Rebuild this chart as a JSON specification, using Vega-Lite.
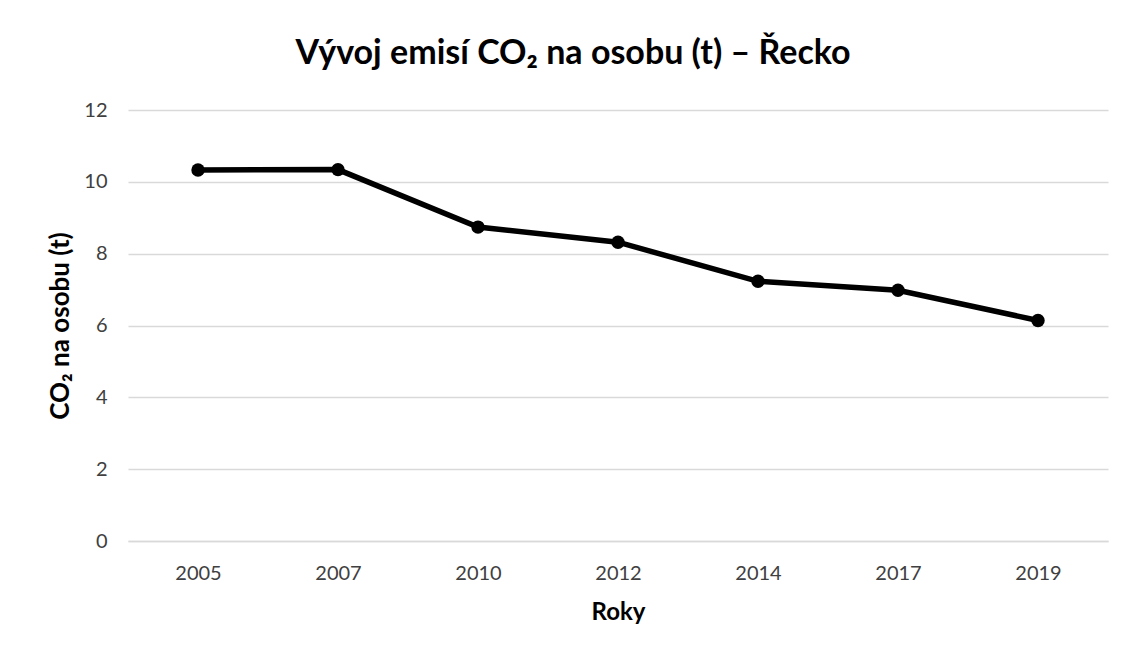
{
  "$schema": "https://vega.github.io/schema/vega-lite/v6.json",
  "autosize": "none",
  "width": 980,
  "height": 431,
  "padding": {"left": 128, "top": 110, "right": 17, "bottom": 114},
  "background": "white",
  "config": {
    "font": "Lato",
    "view": {"stroke": null},
    "axis": {"labelColor": "#404040", "titleColor": "#000000", "gridColor": "#d9d9d9", "gridWidth": 1.5}
  },
  "title": {
    "text": "Vývoj emisí CO₂ na osobu (t) – Řecko",
    "fontSize": 34,
    "fontWeight": "bold",
    "font": "Lato",
    "color": "#000000",
    "anchor": "middle",
    "offset": 29,
    "dx": -45
  },
  "data": {
    "values": [
      {"rok": "2005", "co2": 10.33},
      {"rok": "2007", "co2": 10.34},
      {"rok": "2010", "co2": 8.74},
      {"rok": "2012", "co2": 8.32},
      {"rok": "2014", "co2": 7.23},
      {"rok": "2017", "co2": 6.98},
      {"rok": "2019", "co2": 6.14}
    ]
  },
  "encoding": {
    "x": {
      "field": "rok",
      "type": "ordinal",
      "sort": null,
      "scale": {"paddingInner": 0, "paddingOuter": 0.5},
      "axis": {
        "title": "Roky",
        "titleFontSize": 24,
        "titleFontWeight": "bold",
        "titlePadding": 17,
        "labelFontSize": 20,
        "labelAngle": 0,
        "labelPadding": 22,
        "ticks": false,
        "domain": true,
        "domainColor": "#d9d9d9",
        "domainWidth": 1.5,
        "grid": false
      }
    },
    "y": {
      "field": "co2",
      "type": "quantitative",
      "scale": {"domain": [0, 12]},
      "axis": {
        "title": "CO₂ na osobu (t)",
        "titleFontSize": 26,
        "titleFontWeight": "bold",
        "titlePadding": 10,
        "values": [0, 2, 4, 6, 8, 10, 12],
        "labelFontSize": 20,
        "labelPadding": 21,
        "ticks": false,
        "domain": false,
        "grid": true
      }
    }
  },
  "layer": [
    {"mark": {"type": "line", "color": "#000000", "strokeWidth": 5.5}},
    {"mark": {"type": "point", "filled": true, "color": "#000000", "opacity": 1, "size": 180}}
  ]
}
